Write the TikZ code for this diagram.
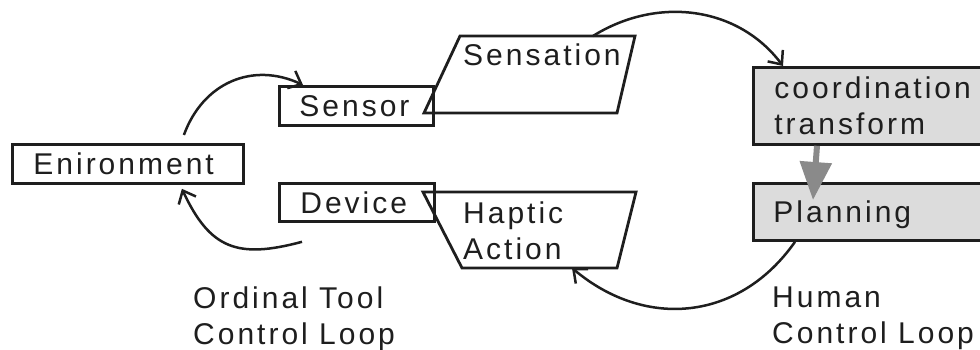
\documentclass[tikz,border=0pt]{standalone}
\usepackage{fontspec}
\setmainfont{Liberation Sans}[LetterSpace=10]
\usetikzlibrary{positioning,calc,arrows.meta}
\definecolor{inkdark}{HTML}{1E1E1E}
\definecolor{boxgray}{HTML}{DCDCDC}
\definecolor{arrowgray}{HTML}{8A8A8A}
\hyphenpenalty=10000
\exhyphenpenalty=10000

\begin{document}
\begin{tikzpicture}[x=1pt, y=-1pt,
  font=\fontsize{30pt}{35.5pt}\selectfont\color{inkdark},
  blockbox/.style={draw=inkdark, line width=2.8pt, anchor=north west, inner ysep=0pt, align=left},
  oneline/.style={text height=21.5pt, text depth=0pt},
  graybox/.style={blockbox, fill=boxgray},
  shapeline/.style={draw=inkdark, line width=2.8pt, line join=miter},
  freetext/.style={anchor=north west, inner sep=0pt, align=left},
  loopline/.style={draw=inkdark, line width=2.5pt, -{Straight Barb[length=11pt,width=19pt]}},
  grayarrow/.style={draw=arrowgray, line width=6pt, -{Triangle[length=38pt,width=31pt]}},
]
\useasboundingbox (0,0) rectangle (980,350);
\clip (0,0) rectangle (980,350);

% ordinal tool loop
\node[blockbox, oneline, inner xsep=21pt, text width=189pt, minimum height=39pt] (env) at (11,143) {Enironment};
\node[blockbox, oneline, inner xsep=20pt, text width=114pt, minimum height=39pt] (sensor) at (278,85) {Sensor};
\node[blockbox, oneline, inner xsep=21pt, text width=113pt, minimum height=38pt] (device) at (278,182) {Device};

% sensation / haptic action
\coordinate (sn-tl) at (460,36);
\coordinate (sn-tr) at (635,36);
\coordinate (sn-br) at (617,113);
\coordinate (sn-bl) at (424,113);
\draw[shapeline] (sn-tl) -- (sn-tr) -- (sn-br) -- (sn-bl) -- cycle;
\node[freetext] (sensation) at (463,44) {Sensation};

\coordinate (hp-tl) at (423,192);
\coordinate (hp-tr) at (636,192);
\coordinate (hp-br) at (617,268);
\coordinate (hp-bl) at (462,268);
\draw[shapeline] (hp-tl) -- (hp-tr) -- (hp-br) -- (hp-bl) -- cycle;
\node[freetext] (haptic) at (463,202) {Haptic\\Action};

% human loop
\node[graybox, inner xsep=21pt, text width=196pt, minimum height=77pt] (coord) at (752,66) {coordination\\transform};
\node[graybox, oneline, inner xsep=20pt, text width=198pt, minimum height=57pt] (plan) at (752,182) {Planning};
\draw[grayarrow] ([xshift=65pt]coord.south west) -- ([xshift=61pt,yshift=-18pt]plan.north west);

% loops
\draw[loopline] ([xshift=56pt,yshift=8pt]env.north) to[out=70, in=155, looseness=1.1] ([xshift=25pt]sensor.north west);
\draw[loopline] ([xshift=133pt]sn-tl) to[out=32, in=127] ([xshift=31pt]coord.north west);
\draw[loopline] ([xshift=43pt]plan.south west) to[out=235, in=-40, looseness=1.1] ([xshift=110pt]hp-bl);
\draw[loopline] ([xshift=24pt,yshift=-19pt]device.south west) to[out=195, in=-65, looseness=1.3] ([xshift=54pt,yshift=-4pt]env.south);

\node[freetext] (toolloop) at (193,287) {Ordinal Tool\\Control Loop};
\node[freetext] (humanloop) at (772,287) {Human\\Control Loop};
\end{tikzpicture}
\end{document}
